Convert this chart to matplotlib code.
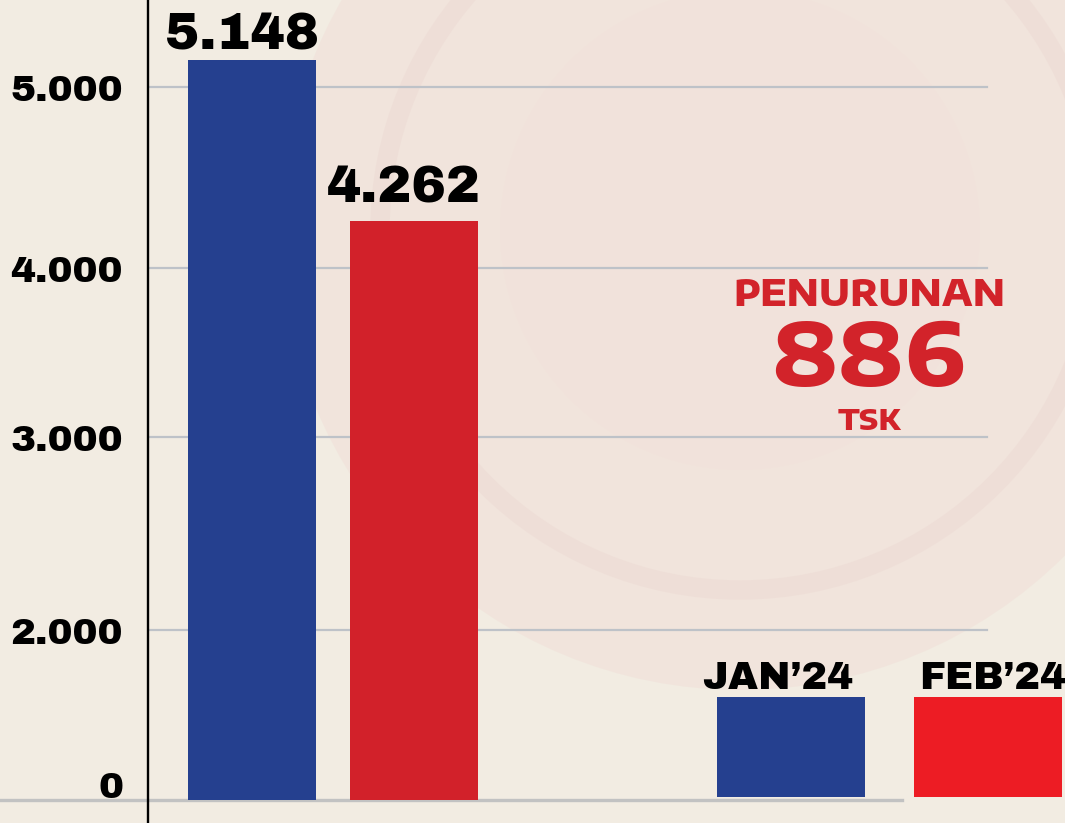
import numpy as np
import matplotlib
matplotlib.use('Agg')
import matplotlib.pyplot as plt
from matplotlib.patches import Rectangle, Circle
import matplotlib.transforms as mtransforms

# Data
months = ['JAN’24', 'FEB’24']
totals = [5148, 4262]
bar_colors = ['#25408F', '#D2212A']
legend_colors = ['#25408F', '#ED1C24']
yticks = [0, 2000, 3000, 4000, 5000]
ytick_labels = ['0', '2.000', '3.000', '4.000', '5.000']
drop = totals[0] - totals[1]  # 886

# The value axis of the infographic is not evenly spaced,
# so use a piecewise scale through the drawn tick heights (px from bottom)
scale_vals = [-1000, 0, 2000, 3000, 4000, 5000, 6000]
scale_px = [-62, 23, 193, 386, 555, 736, 917]

W, H = 1065, 823
RED = '#D2232A'
HEAVY = ['Archivo Black', 'DejaVu Sans']
WIDE = ['Encode Sans Expanded', 'DejaVu Sans']


def forward(v):
    return np.interp(v, scale_vals, scale_px)


def inverse(h):
    return np.interp(h, scale_px, scale_vals)


def inch(x, y):
    # picture pixels (top-left origin) -> figure inches
    return x / 100, (H - y) / 100


fig = plt.figure(figsize=(W / 100, H / 100), dpi=100)
fig.patch.set_facecolor('#F2ECE2')

# faint emblem in the background
fig.patches.append(Circle(inch(740, 230), 4.6, transform=fig.dpi_scale_trans,
                          facecolor='#F0DCD6', edgecolor='none', alpha=0.45, zorder=-3))
fig.patches.append(Circle(inch(740, 230), 3.6, transform=fig.dpi_scale_trans,
                          fill=False, edgecolor='#ECD8D2', lw=14, alpha=0.45, zorder=-2))
fig.patches.append(Circle(inch(740, 230), 2.4, transform=fig.dpi_scale_trans,
                          facecolor='#F2E0DB', edgecolor='none', alpha=0.4, zorder=-2))

ax = fig.add_axes([148 / W, 0, (W - 148) / W, 1])
ax.patch.set_alpha(0)
ax.set_yscale('function', functions=(forward, inverse))
ax.set_ylim(inverse(0), inverse(H))

unit = 162  # px between bar centres
x = np.arange(len(totals))
ax.set_xlim(-(252 - 148) / unit, (W - 252) / unit)
ax.bar(x, totals, width=128 / unit, color=bar_colors, zorder=3)

label_gap = [8, 13]  # points above each bar
for xi, v, gap in zip(x, totals, label_gap):
    ax.annotate(f'{v:,}'.replace(',', '.'), (xi, v), xytext=(-7, gap),
                textcoords='offset points', ha='center', va='baseline',
                fontsize=37, family=HEAVY, color='black', zorder=4)

# gridlines
axw = W - 148
for v in yticks[1:]:
    ax.axhline(v, xmin=0, xmax=(987 - 148) / axw, color='#BEC2C8', lw=1.6, zorder=1)
ax.axhline(0, xmin=-148 / axw, xmax=(902 - 148) / axw, color='#C2C2C2', lw=2.4,
           clip_on=False, zorder=1)

for s in ['top', 'right', 'bottom']:
    ax.spines[s].set_visible(False)
ax.spines['left'].set_linewidth(1.7)
ax.spines['left'].set_color('black')
ax.set_xticks([])
ax.set_yticks(yticks, ytick_labels)
ax.tick_params(axis='y', length=0, pad=18, labelsize=27)
for lab in ax.get_yticklabels():
    lab.set_family(HEAVY)
# the "0" label sits a bit above the baseline in the original
zero_lab = ax.get_yticklabels()[0]
zero_lab.set_transform(zero_lab.get_transform() +
                       mtransforms.ScaledTranslation(0, 0.16, fig.dpi_scale_trans))

# decrease callout
cx = 869
fig.text(*inch(cx, 306), 'PENURUNAN', transform=fig.dpi_scale_trans, ha='center',
         va='baseline', color=RED, fontsize=26, family=WIDE, fontweight=800)
fig.text(*inch(cx, 386), f'{drop}', transform=fig.dpi_scale_trans, ha='center',
         va='baseline', color=RED, fontsize=62, family=WIDE, fontweight=800)
fig.text(*inch(cx, 430), 'TSK', transform=fig.dpi_scale_trans, ha='center',
         va='baseline', color=RED, fontsize=21, family=WIDE, fontweight=800)

# legend boxes with labels on top
box_left = [717, 914]
label_mid = [778, 993]
for left, mid, name, col in zip(box_left, label_mid, months, legend_colors):
    fig.patches.append(Rectangle(inch(left, 797), 1.48, 1.0, transform=fig.dpi_scale_trans,
                                 facecolor=col, edgecolor='none', zorder=3))
    fig.text(*inch(mid, 689), name, transform=fig.dpi_scale_trans, ha='center',
             va='baseline', fontsize=28, family=HEAVY, color='black')

fig.savefig('out.png', dpi=100, facecolor=fig.get_facecolor())
